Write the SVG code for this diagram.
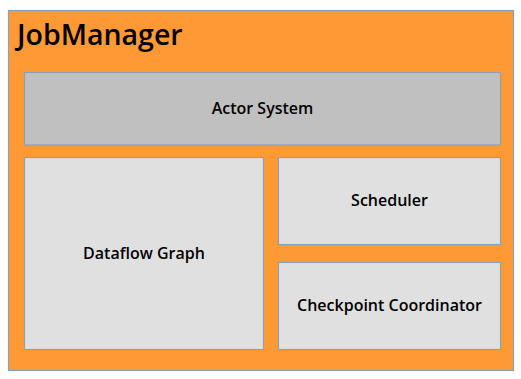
<svg xmlns="http://www.w3.org/2000/svg" width="521" height="379" viewBox="0 0 521 379">
<style>
.box{stroke:#8aa0b4;stroke-width:1.2}
.lbl{font-family:"Open Sans","Noto Sans",sans-serif;font-size:16px;font-weight:600;fill:#000;text-anchor:middle;dominant-baseline:central}
</style>
<rect width="521" height="379" fill="#fff"/>
<g id="jobmanager">
<rect class="box" x="8.5" y="10.5" width="505" height="360" fill="#ff9933"/>
<text x="17" y="45" font-family="'Open Sans','Noto Sans',sans-serif" font-size="28.5" font-weight="600" fill="#000">JobManager</text>
</g>
<g id="actor-system">
<rect class="box" x="24.5" y="72.5" width="476" height="72.5" fill="#c0c0c0"/>
<text class="lbl" x="262.5" y="108">Actor System</text>
</g>
<g id="dataflow-graph">
<rect class="box" x="24.5" y="157.5" width="239" height="192" fill="#e0e0e0"/>
<text class="lbl" x="144" y="253">Dataflow Graph</text>
</g>
<g id="scheduler">
<rect class="box" x="278.5" y="157.5" width="222" height="87" fill="#e0e0e0"/>
<text class="lbl" x="389.5" y="200">Scheduler</text>
</g>
<g id="checkpoint-coordinator">
<rect class="box" x="278.5" y="262.5" width="222" height="87" fill="#e0e0e0"/>
<text class="lbl" x="389.5" y="305">Checkpoint Coordinator</text>
</g>
<g id="connectors"></g>
</svg>
